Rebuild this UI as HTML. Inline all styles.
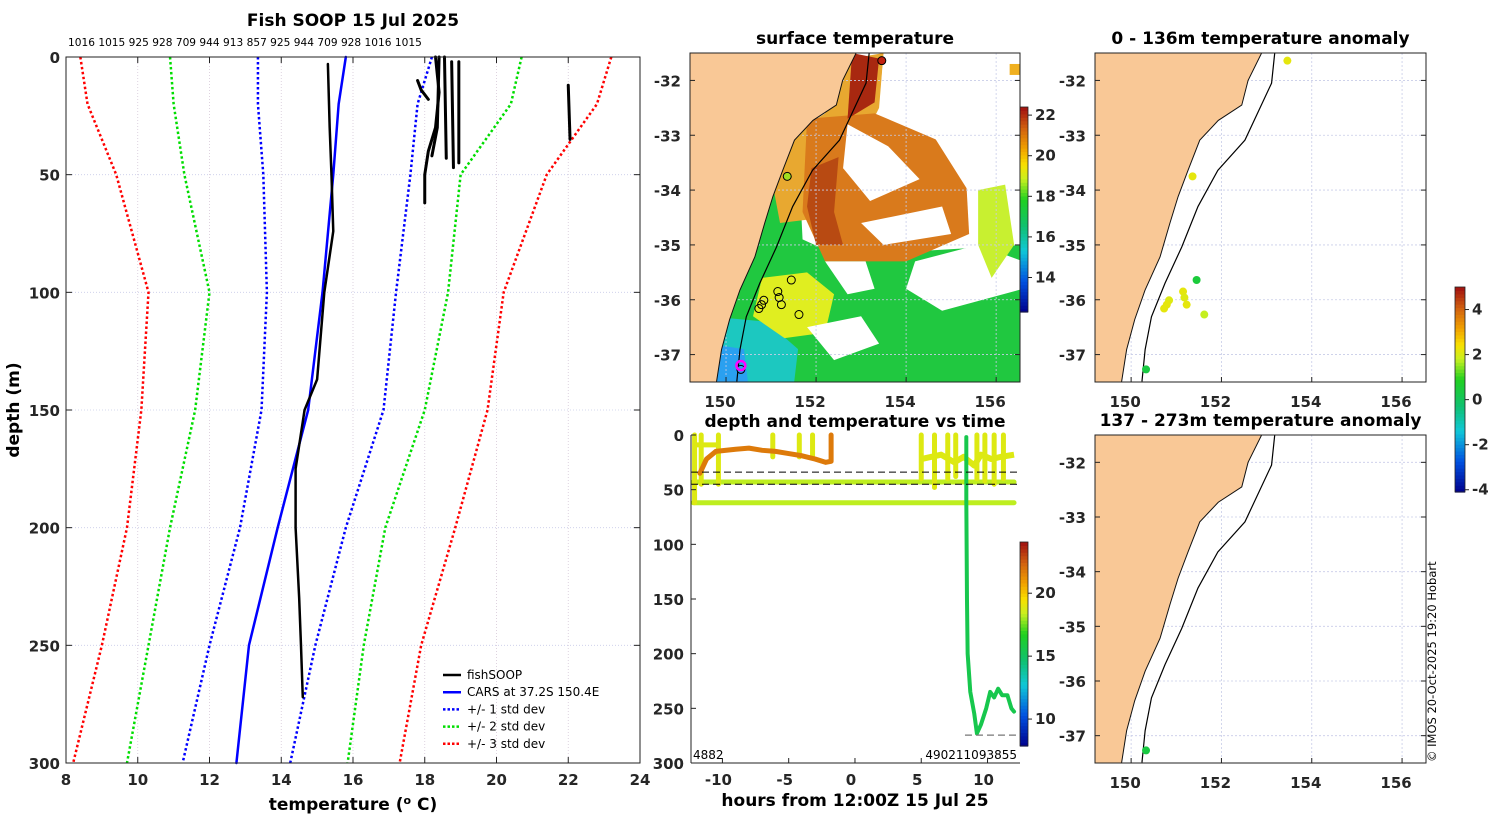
<!DOCTYPE html>
<html><head><meta charset="utf-8"><style>
body{margin:0;background:#fff}
svg{display:block;font-family:"DejaVu Sans","Liberation Sans",sans-serif}
.tk{font-weight:bold;font-size:15px;fill:#262626}
.tt{font-weight:bold;font-size:17px;fill:#000}
.plain{font-weight:normal;fill:#000}
</style></head><body>
<svg id="fig" width="1500" height="820" viewBox="0 0 1500 820" xmlns="http://www.w3.org/2000/svg">
<rect width="1500" height="820" fill="#fff"/>
<g id="g1"></g>
<g id="g2"></g>
<g id="g3"></g>
<g id="g4"></g>
<g id="g5"></g>
<g id="g6"></g>
<text x="1436" y="762" transform="rotate(-90 1436 762)" font-size="11.5" fill="#000">© IMOS 20-Oct-2025 19:20 Hobart</text>
</svg>
<script>
// ---------- data: profile panel ----------
const profDepths=[0,20,50,100,150,200,250,300];
const carsMean=[15.8,15.6,15.45,15.15,14.75,13.9,13.1,12.75];
const std1Lo=[13.35,13.35,13.5,13.6,13.45,12.85,12.0,11.25];
const std1Hi=[18.2,17.8,17.6,17.2,16.85,15.8,14.95,14.25];
const std2Lo=[10.9,11.0,11.3,12.0,11.6,10.9,10.3,9.7];
const std2Hi=[20.7,20.4,19.0,18.65,18.0,16.9,16.3,15.85];
const std3Lo=[8.4,8.6,9.4,10.3,10.1,9.7,9.0,8.2];
const std3Hi=[23.2,22.8,21.4,20.2,19.75,18.85,17.9,17.3];
const soopMainT=[15.3,15.35,15.4,15.45,15.2,15.0,14.65,14.4,14.4,14.5,14.55,14.6];
const soopMainD=[3,30,50,74,100,137,150,175,200,230,250,272];
const soopShortT=[[18.0,18.0,18.1,18.3,18.4,18.3],[18.4,18.35,18.2],[18.55,18.6],[18.75,18.8],[18.95,18.95],[22.0,22.05],[17.8,17.9,18.1]];
const soopShortD=[[62,50,40,30,15,0],[0,30,42],[0,43],[2,47],[2,45],[12,35],[10,14,18]];
const topLabels="1016 1015 925 928 709 944 913 857 925 944 709 928 1016 1015";
const tTicks=[8,10,12,14,16,18,20,22,24];
const dTicks=[0,50,100,150,200,250,300];
// ---------- data: maps ----------
const coastLon=[152.89,152.59,152.45,151.93,151.52,151.26,151.04,150.86,150.64,150.31,150.08,149.9,149.79];
const coastLat=[-31.5,-32.0,-32.45,-32.73,-33.09,-33.64,-34.12,-34.6,-35.22,-35.82,-36.36,-36.91,-37.49];
const shelfLon=[153.18,153.11,152.52,151.92,151.48,151.12,150.75,150.45,150.31,150.24];
const shelfLat=[-31.5,-32.05,-33.09,-33.64,-34.3,-35.04,-35.7,-36.31,-36.91,-37.49];
const stnLon=[153.46,151.36,151.45,151.15,151.18,151.23,150.84,150.79,150.73,151.62,150.33];
const stnLat=[-31.64,-33.75,-35.64,-35.85,-35.96,-36.09,-36.01,-36.09,-36.16,-36.27,-37.27];
const anomUpper=[2.2,2.2,0.5,2.2,2.1,2.2,2.1,2.2,2.2,1.8,0.4];
const lonTicks=[150,152,154,156];
const latTicks=[-32,-33,-34,-35,-36,-37];
// ---------- data: depth-time ----------
const tdTicksX=[-10,-5,0,5,10];
const tdTicksY=[0,50,100,150,200,250,300];
const orangeH=[-11.7,-11.2,-10.5,-9,-8,-7,-6,-5,-4,-3,-2.2,-1.8,-1.8];
const orangeD=[35,22,15,13,12,14,15,17,19,22,25,24,0];
const greenH=[8.4,8.4,8.45,8.5,8.7,9.0,9.2,9.5,9.9,10.2,10.5,10.8,11.1,11.5,11.8,12.0];
const greenD=[2,60,150,200,235,255,273,265,250,235,240,232,238,238,250,253];
const spikeH=[-12.1,-11.6,-10.3,-6.2,-4.2,-3.2,5.0,6.0,7.0,7.6,9.2,9.8,10.5,11.2];
const spikeD=[62,45,45,20,20,20,40,48,40,38,40,42,45,40];

const NS="http://www.w3.org/2000/svg";
function mk(par,tag,attrs,name){const e=document.createElementNS(NS,tag);for(const k in attrs)e.setAttribute(k,attrs[k]);


par.appendChild(e);return e;}
function txt(par,x,y,s,cls,anchor,name,extra){const e=mk(par,'text',Object.assign({x:x,y:y,class:cls||'tk','text-anchor':anchor||'middle'},extra||{}),name);e.textContent=s;return e;}
function lerp(a,b,t){return a+(b-a)*t}
function hex(c){return [parseInt(c.substr(1,2),16),parseInt(c.substr(3,2),16),parseInt(c.substr(5,2),16)]}
const stops=[[0,'#00008b'],[0.15,'#0050e0'],[0.3,'#10c8d8'],[0.42,'#10c070'],[0.55,'#20d020'],[0.65,'#c8f020'],[0.72,'#f8e000'],[0.8,'#f0a000'],[0.9,'#d06010'],[1,'#a01010']];
function cmap(f){f=Math.max(0,Math.min(1,f));for(let i=1;i<stops.length;i++){if(f<=stops[i][0]){const a=hex(stops[i-1][1]),b=hex(stops[i][1]);const t=(f-stops[i-1][0])/(stops[i][0]-stops[i-1][0]);return 'rgb('+[0,1,2].map(k=>Math.round(lerp(a[k],b[k],t))).join(',')+')';}}return stops[stops.length-1][1];}
function colorbar(par,x,y0,y1,w,vmin,vmax,ticks,name){
  const n=60,h=(y1-y0)/n;
  for(let i=0;i<n;i++){mk(par,'rect',{x:x,y:y1-(i+1)*h,width:w,height:h+0.6,fill:cmap((i+0.5)/n)},name+'-segment');}
  mk(par,'rect',{x:x,y:y0,width:w,height:y1-y0,fill:'none',stroke:'#222','stroke-width':0.8},name+'-frame');
  ticks.forEach(v=>{const yy=y1-(v-vmin)/(vmax-vmin)*(y1-y0);
    mk(par,'line',{x1:x+w,x2:x+w+4,y1:yy,y2:yy,stroke:'#222'},name+'-tick');
    txt(par,x+w+7,yy+5,String(v),'tk','start',name+'-tick-label',{'font-size':'13'});});
}

// ================= Panel 1 =================
(function(){
const g=document.getElementById('g1');
const L=66,R=640,T=57,B=763;
const X=t=>L+(t-8)/16*(R-L), Y=d=>T+d/300*(B-T);
txt(g,353,26,'Fish SOOP 15 Jul 2025','tt','middle','panel-title');
txt(g,68,46,topLabels,'plain', 'start','top-labels',{'font-size':'10.6'});
tTicks.forEach(v=>{if(v>8&&v<24)mk(g,'line',{x1:X(v),x2:X(v),y1:T,y2:B,stroke:'#d6c8d8','stroke-width':0.8,'stroke-dasharray':'1,2'},'x-grid-line');
 mk(g,'line',{x1:X(v),x2:X(v),y1:T,y2:T+6,stroke:'#222'},'x-tick');mk(g,'line',{x1:X(v),x2:X(v),y1:B,y2:B-6,stroke:'#222'},'x-tick');
 txt(g,X(v),785,String(v),'tk','middle','x-tick-label');});
dTicks.forEach(v=>{if(v>0&&v<300)mk(g,'line',{x1:L,x2:R,y1:Y(v),y2:Y(v),stroke:'#c8cce8','stroke-width':0.8,'stroke-dasharray':'1,2'},'y-grid-line');
 mk(g,'line',{x1:L,x2:L+6,y1:Y(v),y2:Y(v),stroke:'#222'},'y-tick');mk(g,'line',{x1:R,x2:R-6,y1:Y(v),y2:Y(v),stroke:'#222'},'y-tick');
 txt(g,60,Y(v)+6,String(v),'tk','end','y-tick-label');});
const xl=txt(g,353,810,'temperature (','tt','middle','x-axis-title');
const sup=mk(xl,'tspan',{dy:'-6','font-size':'11'},'degree-sup');sup.textContent='o';
const rest=mk(xl,'tspan',{dy:'6'},'unit');rest.textContent=' C)';
txt(g,19,410,'depth (m)','tt','middle','y-axis-title',{transform:'rotate(-90 19 410)'});
function line(ts,ds,col,dash,w,name){mk(g,'polyline',{points:ts.map((t,i)=>X(t)+','+Y(ds[i])).join(' '),fill:'none',stroke:col,'stroke-width':w,'stroke-dasharray':dash||'none','stroke-linejoin':'round','stroke-linecap':dash?'butt':'round'},name);}
line(std3Lo,profDepths,'#ff0000','2.5,2.5',2.5,'std3-lower');line(std3Hi,profDepths,'#ff0000','2.5,2.5',2.5,'std3-upper');
line(std2Lo,profDepths,'#00dd00','2.5,2.5',2.5,'std2-lower');line(std2Hi,profDepths,'#00dd00','2.5,2.5',2.5,'std2-upper');
line(std1Lo,profDepths,'#0000ff','2.5,2.5',2.5,'std1-lower');line(std1Hi,profDepths,'#0000ff','2.5,2.5',2.5,'std1-upper');
line(carsMean,profDepths,'#0000ff',null,2.5,'cars-mean');
line(soopMainT,soopMainD,'#000',null,2.5,'fishsoop-profile');
soopShortT.forEach((ts,i)=>line(ts,soopShortD[i],'#000',null,3,'fishsoop-short-profile'));
mk(g,'rect',{x:L,y:T,width:R-L,height:B-T,fill:'none',stroke:'#222','stroke-width':1},'plot-frame');
const leg=[['fishSOOP','#000',null],['CARS at 37.2S 150.4E','#0000ff',null],['+/- 1 std dev','#0000ff','2.5,2'],['+/- 2 std dev','#00dd00','2.5,2'],['+/- 3 std dev','#ff0000','2.5,2']];
leg.forEach((l,i)=>{const y=675+i*17.2;mk(g,'line',{x1:443,x2:461,y1:y,y2:y,stroke:l[1],'stroke-width':2.5,'stroke-dasharray':l[2]||'none'},'legend-swatch');
 txt(g,467,y+4,l[0],'plain','start','legend-entry',{'font-size':'12'});});
})();

// ================= Maps =================
function mapPanel(g,T,B,title,opts){
 const L=opts.L,R=opts.R;
 const X=lon=>L+(lon-149.2)*(R-L)/7.33, Y=lat=>T+(-31.5-lat)*(B-T)/6.0;
 txt(g,(L+R)/2,T-9,title,'tt','middle','map-title');
 const cid='clip'+Math.round(L)+Math.round(T);
 const defs=mk(g,'defs',{},'defs');const cp=mk(defs,'clipPath',{id:cid},'clip');mk(cp,'rect',{x:L,y:T,width:R-L,height:B-T},'clip-rect');
 const inner=mk(g,'g',{'clip-path':'url(#'+cid+')'},'map-content');
 if(opts.sst){
  const P=(a)=>a.map(p=>X(p[0])+','+Y(p[1])).join(' ');
  const fills=[
   ['#20c840',[[150.2,-33.3],[151.6,-33.2],[151.7,-34.9],[152.5,-35.2],[156.6,-35.0],[156.6,-37.6],[149.6,-37.6]]],
   ['#1cc8c0',[[149.6,-36.3],[150.9,-36.4],[151.6,-36.9],[151.5,-37.6],[149.6,-37.6]]],
   ['#2aa0f0',[[149.6,-36.8],[150.4,-36.9],[150.5,-37.6],[149.6,-37.6]]],
   ['#e0ee20',[[150.8,-35.6],[151.8,-35.5],[152.4,-35.9],[152.2,-36.6],[151.3,-36.7],[150.6,-36.3]]],
   ['#e8a830',[[150.9,-33.3],[152.2,-32.6],[152.8,-31.6],[153.5,-31.5],[153.4,-32.5],[152.2,-34.5],[151.2,-34.6]]],
   ['#d97a1c',[[151.8,-32.7],[153.3,-32.6],[155.3,-33.3],[155.4,-34.8],[154.0,-35.3],[152.2,-35.3],[151.7,-34.4]]],
   ['#b84a12',[[151.9,-33.6],[152.5,-33.4],[152.4,-34.4],[152.6,-35.0],[152.0,-35.0],[151.8,-34.3]]],
   ['#a82810',[[152.8,-31.5],[153.4,-31.6],[153.3,-32.4],[152.7,-32.7]]],
   ['#ffffff',[[152.7,-32.8],[153.6,-33.2],[154.3,-33.8],[153.2,-34.2],[152.6,-33.6]]],
   ['#ffffff',[[153.5,-31.5],[156.6,-31.5],[156.6,-33.8],[155.6,-34.3],[154.6,-33.0],[153.4,-32.6]]],
   ['#ffffff',[[153.0,-34.6],[154.8,-34.3],[155.0,-34.8],[153.5,-35.0]]],
   ['#ffffff',[[154.2,-35.3],[155.6,-35.0],[156.6,-35.3],[156.6,-35.8],[154.8,-36.2],[154.0,-35.8]]],
   ['#ffffff',[[151.8,-36.5],[153.0,-36.3],[153.4,-36.8],[152.4,-37.1]]],
   ['#ffffff',[[152.2,-35.3],[153.1,-35.3],[153.3,-35.8],[152.7,-35.9]]],
   ['#c8f030',[[155.6,-34.0],[156.2,-33.9],[156.4,-35.0],[155.9,-35.6],[155.6,-35.0]]],
   ['#f0b020',[[156.3,-31.7],[156.6,-31.7],[156.6,-31.9],[156.3,-31.9]]]
  ];
  fills.forEach(f=>mk(inner,'polygon',{points:P(f[1]),fill:f[0]},'sst-region'));
 }
 lonTicks.forEach(v=>{mk(inner,'line',{x1:X(v),x2:X(v),y1:T,y2:B,stroke:'#c8cce8','stroke-width':0.8,'stroke-dasharray':'2,2'},'lon-grid-line');});
 latTicks.forEach(v=>{mk(inner,'line',{x1:L,x2:R,y1:Y(v),y2:Y(v),stroke:'#c8cce8','stroke-width':0.8,'stroke-dasharray':'2,2'},'lat-grid-line');});
 const land=[[149.0,-31.3]].concat(coastLon.map((v,i)=>[v,coastLat[i]]));
 land[0]=[coastLon[0],-31.3];land.push([coastLon[coastLon.length-1],-37.7],[149.0,-37.7],[149.0,-31.3]);
 mk(inner,'polygon',{points:land.map(p=>X(p[0])+','+Y(p[1])).join(' '),fill:'#f9c896',stroke:'#111','stroke-width':1},'land');
 mk(inner,'polyline',{points:shelfLon.map((v,i)=>X(v)+','+Y(shelfLat[i])).join(' '),fill:'none',stroke:'#000','stroke-width':1.2},'shelf-contour');
 stnLon.forEach((v,i)=>{
  if(opts.sst){mk(inner,'circle',{cx:X(v),cy:Y(stnLat[i]),r:4,fill:i==0?'#c02010':(i==1?'#a0e020':(i==10?'#2aa0f0':'none')),stroke:'#000','stroke-width':1},'station-marker');}
  else if(opts.anom){if(opts.only==null||opts.only.includes(i))mk(inner,'circle',{cx:X(v),cy:Y(stnLat[i]),r:4,fill:cmap((opts.anom[i]+4.1)/9.1)},'station-anomaly');}
 });
 if(opts.sst)mk(inner,'circle',{cx:X(150.33),cy:Y(-37.2),r:4.5,fill:'none',stroke:'#ff00ff','stroke-width':2.5},'current-position');
 mk(g,'rect',{x:L,y:T,width:R-L,height:B-T,fill:'none',stroke:'#222'},'map-frame');
 lonTicks.forEach(v=>{mk(g,'line',{x1:X(v),x2:X(v),y1:B,y2:B-5,stroke:'#222'},'lon-tick');if(opts.lonLabels)txt(g,X(v)-6,B+25,String(v),'tk','middle','lon-tick-label');});
 latTicks.forEach(v=>{mk(g,'line',{x1:L,x2:L+5,y1:Y(v),y2:Y(v),stroke:'#222'},'lat-tick');mk(g,'line',{x1:R,x2:R-5,y1:Y(v),y2:Y(v),stroke:'#222'},'lat-tick');txt(g,L-9,Y(v)+6,String(v),'tk','end','lat-tick-label');});
}
mapPanel(document.getElementById('g2'),53,382,'surface temperature',{L:690,R:1020,sst:true,lonLabels:true});
colorbar(document.getElementById('g2'),1020,107,312,8,12.3,22.4,[14,16,18,20,22],'sst-colorbar');
mapPanel(document.getElementById('g4'),53,382,'0 - 136m temperature anomaly',{L:1095,R:1426,anom:anomUpper,lonLabels:true});
mapPanel(document.getElementById('g5'),435,763,'137 - 273m temperature anomaly',{L:1095,R:1426,anom:anomUpper,only:[10],lonLabels:true});
colorbar(document.getElementById('g6'),1455,287,492,10,-4.1,5,[4,2,0,-2,-4],'anomaly-colorbar');

// ================= Depth-time =================
(function(){
const g=document.getElementById('g3');
const L=691,R=1020,T=435,B=763;
const X=h=>L+(h+12.37)/24.82*(R-L), Y=d=>T+d/300*(B-T);
txt(g,855,427,'depth and temperature vs time','tt','middle','panel-title');
const tcol=t=>cmap((t-7.86)/(24.07-7.86));
const yel=tcol(18.9), yel2=tcol(18.3);
mk(g,'polyline',{points:[[-12.2,43],[12,43]].map(p=>X(p[0])+','+Y(p[1])).join(' '),fill:'none',stroke:yel2,'stroke-width':5,'stroke-linecap':'round'},'track-43m');
mk(g,'polyline',{points:[[-12.2,62],[12,62]].map(p=>X(p[0])+','+Y(p[1])).join(' '),fill:'none',stroke:yel2,'stroke-width':5,'stroke-linecap':'round'},'track-62m');
mk(g,'polyline',{points:[[-12.2,9],[-10.3,9]].map(p=>X(p[0])+','+Y(p[1])).join(' '),fill:'none',stroke:yel,'stroke-width':5},'track-surface');
mk(g,'polyline',{points:[[5,22],[6.5,18],[7.5,25],[8.2,20],[9,28],[9.5,18],[10.3,22],[11,20],[12,18]].map(p=>X(p[0])+','+Y(p[1])).join(' '),fill:'none',stroke:yel,'stroke-width':6,'stroke-linejoin':'round'},'track-right-cluster');
spikeH.forEach((h,i)=>{mk(g,'line',{x1:X(h),x2:X(h),y1:Y(0),y2:Y(spikeD[i]),stroke:yel,'stroke-width':5,'stroke-linecap':'round'},'track-spike');});
mk(g,'polyline',{points:orangeH.map((h,i)=>X(h)+','+Y(orangeD[i])).join(' '),fill:'none',stroke:tcol(21.8),'stroke-width':5,'stroke-linejoin':'round','stroke-linecap':'round'},'track-warm');
mk(g,'polyline',{points:greenH.map((h,i)=>X(h)+','+Y(greenD[i])).join(' '),fill:'none',stroke:tcol(15.6),'stroke-width':4,'stroke-linejoin':'round','stroke-linecap':'round'},'track-deep');
mk(g,'line',{x1:L,x2:R,y1:Y(34),y2:Y(34),stroke:'#000','stroke-dasharray':'7,4'},'dashed-line-34m');
mk(g,'line',{x1:L,x2:R,y1:Y(45),y2:Y(45),stroke:'#000','stroke-dasharray':'7,4'},'dashed-line-45m');
mk(g,'line',{x1:X(8.3),x2:R,y1:Y(274.5),y2:Y(274.5),stroke:'#777','stroke-dasharray':'7,4','stroke-width':1.3},'dashed-line-bottom');
txt(g,693,759,'4882','plain','start','left-ids',{'font-size':'12'});
txt(g,1017,759,'490211093855','plain','end','right-ids',{'font-size':'12'});
mk(g,'line',{x1:L,x2:L,y1:T,y2:B,stroke:'#222'},'y-axis-line');
mk(g,'line',{x1:L,x2:R,y1:B,y2:B,stroke:'#222'},'x-axis-line');
tdTicksX.forEach(v=>{mk(g,'line',{x1:X(v),x2:X(v),y1:B,y2:B-5,stroke:'#222'},'x-tick');txt(g,X(v)-4,785,String(v),'tk','middle','x-tick-label');});
tdTicksY.forEach(v=>{mk(g,'line',{x1:L,x2:L+5,y1:Y(v),y2:Y(v),stroke:'#222'},'y-tick');txt(g,684,Y(v)+6,String(v),'tk','end','y-tick-label');});
txt(g,855,806,'hours from 12:00Z 15 Jul 25','tt','middle','x-axis-title');
colorbar(g,1020,542,746,8,7.86,24.07,[10,15,20],'time-colorbar');
})();
</script>
</body></html>
